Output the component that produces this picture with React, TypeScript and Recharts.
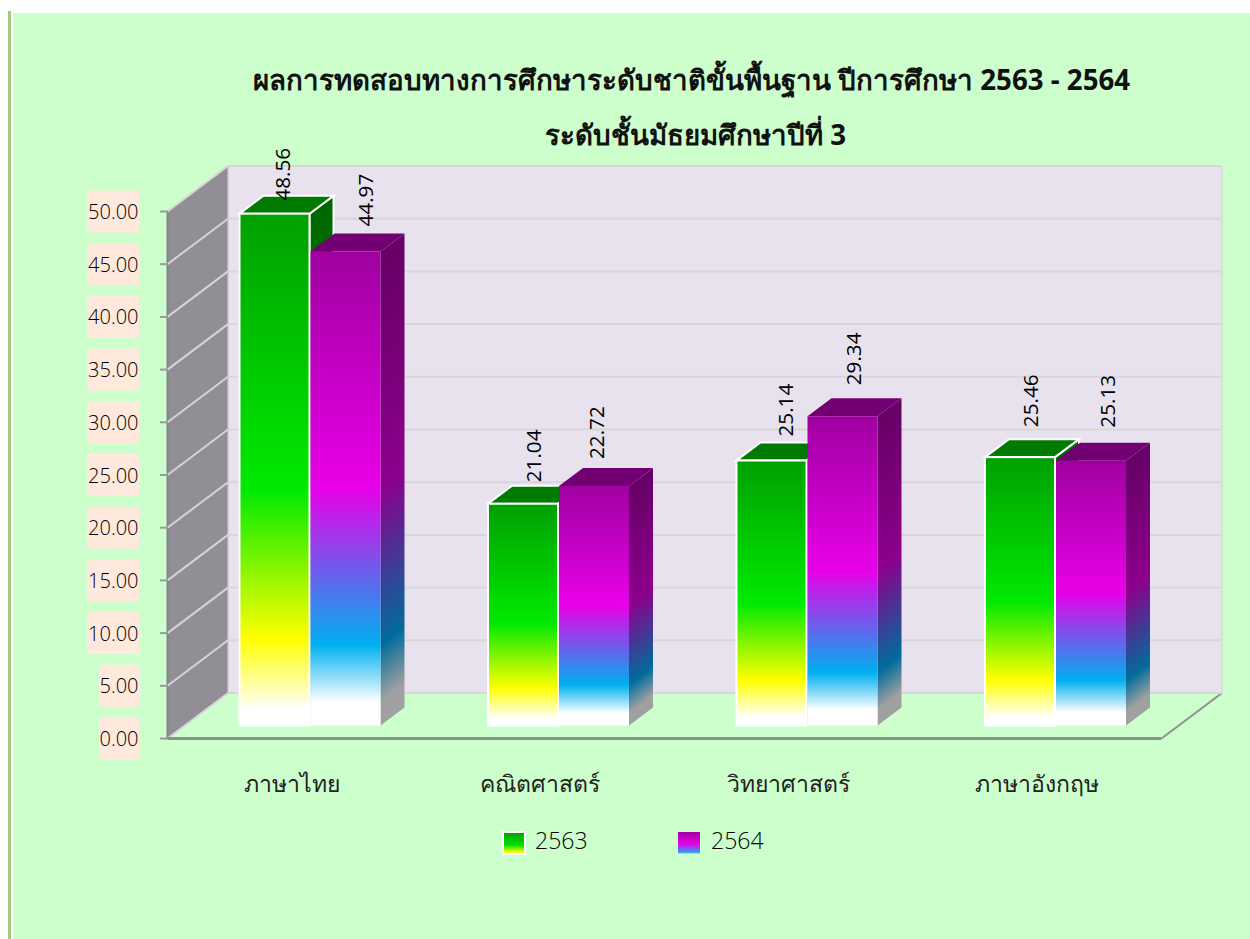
import { BarChart, Bar, XAxis, YAxis, Legend, LabelList, CartesianGrid, usePlotArea } from "recharts";

const subjects = ["ภาษาไทย", "คณิตศาสตร์", "วิทยาศาสตร์", "ภาษาอังกฤษ"];
const scores2563 = [48.56, 21.04, 25.14, 25.46];
const scores2564 = [44.97, 22.72, 29.34, 25.13];
const yTicks = [0, 5, 10, 15, 20, 25, 30, 35, 40, 45, 50];
const titleLines = ["ผลการทดสอบทางการศึกษาระดับชาติขั้นพื้นฐาน ปีการศึกษา 2563 - 2564", "ระดับชั้นมัธยมศึกษาปีที่ 3"];

const data = subjects.map((subject, i) => ({ subject, y2563: scores2563[i], y2564: scores2564[i] }));

const FONT = "'Open Sans', 'Noto Sans', sans-serif";
const TITLE_FONT = "'Noto Sans', sans-serif";
// depth of the fake 3D box
const WALL_DX = 60.5;
const WALL_DY = 45.5;
const BAR_SHIFT_X = 18;
const BAR_SHIFT_Y = 13;
const BAR_DX = 24;
const BAR_DY = 18;

const greenFront = [
  [0, "#00a000"],
  [0.54, "#00ea00"],
  [0.83, "#ffff00"],
  [0.97, "#ffffff"],
] as const;
const purpleFront = [
  [0, "#a000a0"],
  [0.5, "#e800e8"],
  [0.83, "#00b0f0"],
  [0.95, "#ffffff"],
] as const;
const purpleSide = [
  [0, "#660066"],
  [0.5, "#8c008c"],
  [0.83, "#006c9c"],
  [0.95, "#a0a0a0"],
] as const;
const greenSide = [
  [0, "#006600"],
  [0.54, "#008c00"],
  [0.83, "#9c9c00"],
  [0.97, "#a0a0a0"],
] as const;
const greenSwatch = [
  [0, "#00a000"],
  [0.6, "#00e000"],
  [0.92, "#ffff00"],
  [1, "#ffffa0"],
] as const;
const purpleSwatch = [
  [0, "#a000a0"],
  [0.55, "#e800e8"],
  [0.92, "#2aa0f0"],
  [1, "#c0f0ff"],
] as const;

// label nudges, the original labels were placed unevenly: [dx from bar centre, gap above the bar]
const labelNudge2563 = [[7.5, 13], [9.5, 21.5], [13.5, 24], [10, 30]];
const labelNudge2564 = [[19.5, 25], [1.5, 27], [10, 31], [16, 33]];

function Bar3D(props: any) {
  const { x, y, width, height, index, series } = props;
  const green = series === "a";
  const fx = x + BAR_SHIFT_X;
  const fy = y - BAR_SHIFT_Y;
  const r = fx + width;
  const b = fy + height;
  const front = `front-${series}-${index}`;
  const side = `side-${series}-${index}`;
  const edge = green ? { stroke: "#fff", strokeWidth: 2 } : {};
  return (
    <g>
      <defs>
        <linearGradient id={front} x1="0" y1="0" x2="0" y2="1">
          {(green ? greenFront : purpleFront).map(([o, c]) => (
            <stop key={o} offset={o} stopColor={c} />
          ))}
        </linearGradient>
        <linearGradient
          id={side}
          gradientUnits="userSpaceOnUse"
          x1={r}
          y1={fy}
          x2={r + 0.48 * height}
          y2={fy + 0.64 * height}
        >
          {(green ? greenSide : purpleSide).map(([o, c]) => (
            <stop key={o} offset={o} stopColor={c} />
          ))}
        </linearGradient>
      </defs>
      <polygon
        points={`${r},${fy} ${r + BAR_DX},${fy - BAR_DY} ${r + BAR_DX},${b - BAR_DY} ${r},${b}`}
        fill={`url(#${side})`}
        {...edge}
      />
      <polygon
        points={`${fx},${fy} ${fx + BAR_DX},${fy - BAR_DY} ${r + BAR_DX},${fy - BAR_DY} ${r},${fy}`}
        fill={green ? "#007a00" : "#720072"}
        {...edge}
      />
      <rect x={fx} y={fy} width={width} height={height} fill={`url(#${front})`} {...edge} />
    </g>
  );
}

function ValueLabel(props: any) {
  const { x, y, width, value, index, nudges } = props;
  const cx = x + BAR_SHIFT_X + width / 2 + nudges[index][0];
  const by = y - BAR_SHIFT_Y - nudges[index][1];
  return (
    <text
      transform={`translate(${cx},${by}) rotate(-90)`}
      fontFamily={FONT}
      fontSize={20.7}
      fill="#000"
      dominantBaseline="central"
    >
      {Number(value).toFixed(2)}
    </text>
  );
}

function Walls() {
  const plot = usePlotArea();
  if (!plot) return null;
  const { x, y, width, height } = plot;
  const b = y + height;
  const r = x + width;
  return (
    <g>
      <rect x={x + WALL_DX} y={y - WALL_DY} width={width} height={height} fill="#e7e2ed" stroke="#d2d0d4" />
      <polygon
        points={`${x},${y} ${x + WALL_DX},${y - WALL_DY} ${x + WALL_DX},${b - WALL_DY} ${x},${b}`}
        fill="#918e96"
        stroke="#d2d0d4"
      />
      <line x1={x} y1={y} x2={x} y2={b} stroke="#85838a" strokeWidth={2} />
      <line x1={r} y1={b} x2={r + WALL_DX} y2={b - WALL_DY} stroke="#8f8f8f" strokeWidth={2} />
      <line x1={x + WALL_DX} y1={b - WALL_DY} x2={r + WALL_DX} y2={b - WALL_DY} stroke="#c6c4c8" strokeWidth={2} />
    </g>
  );
}

function GridLine(props: any) {
  const { x1, x2, y1 } = props;
  return (
    <g>
      <line x1={x1} y1={y1} x2={x1 + WALL_DX} y2={y1 - WALL_DY} stroke="#d6d4d8" strokeWidth={2} />
      <line x1={x1 + WALL_DX} y1={y1 - WALL_DY} x2={x2 + WALL_DX} y2={y1 - WALL_DY} stroke="#d8d6d8" strokeWidth={2} />
    </g>
  );
}

function YTick(props: any) {
  const { y, payload } = props;
  const label = Number(payload.value).toFixed(2);
  const boxW = label.length > 4 ? 52 : 40;
  return (
    <g>
      <rect x={139 - boxW} y={y - 21} width={boxW} height={42} fill="#ffe9dc" />
      <line x1={160} x2={168} y1={y} y2={y} stroke="#999" strokeWidth={2} />
      <text x={138.5} y={y} textAnchor="end" dominantBaseline="central" fontFamily={FONT} fontWeight={300} fontSize={20} fill="#000">
        {label}
      </text>
    </g>
  );
}

function XTick(props: any) {
  const { x, y, payload } = props;
  return (
    <text x={x} y={y + 2} textAnchor="middle" dominantBaseline="central" fontFamily={FONT} fontWeight={300} fontSize={23} fill="#222">
      {payload.value}
    </text>
  );
}

function LegendRow() {
  const items = [
    { label: "2563", x: 503, textX: 535, fill: "legend-a", edge: true },
    { label: "2564", x: 678, textX: 711, fill: "legend-b", edge: false },
  ];
  return (
    <svg width={300} height={30} style={{ display: "block", overflow: "visible" }}>
      <defs>
        <linearGradient id="legend-a" x1="0" y1="0" x2="0" y2="1">
          {greenSwatch.map(([o, c]) => (
            <stop key={o} offset={o} stopColor={c} />
          ))}
        </linearGradient>
        <linearGradient id="legend-b" x1="0" y1="0" x2="0" y2="1">
          {purpleSwatch.map(([o, c]) => (
            <stop key={o} offset={o} stopColor={c} />
          ))}
        </linearGradient>
      </defs>
      {items.map((it) => (
        <g key={it.label}>
          <rect
            x={it.x - 503}
            y={2}
            width={22}
            height={22}
            fill={`url(#${it.fill})`}
            stroke={it.edge ? "#fff" : "none"}
            strokeWidth={2}
          />
          <text x={it.textX - 503} y={10} dominantBaseline="central" fontFamily={FONT} fontWeight={300} fontSize={23} fill="#000">
            {it.label}
          </text>
        </g>
      ))}
    </svg>
  );
}

export default function App() {
  return (
    <div style={{ position: "fixed", left: 0, top: 0, width: 1250, height: 939, background: "#fff", overflow: "hidden" }}>
      <div style={{ position: "absolute", left: 8, top: 11, width: 3, height: 928, background: "#a3c97f" }} />
      <div style={{ position: "absolute", left: 13, top: 13, width: 1237, height: 926, background: "#ccffcc" }} />
      <div style={{ position: "absolute", left: 0, top: 0 }}>
        <BarChart
          width={1250}
          height={939}
          data={data}
          margin={{ top: 211.5, right: 88.5, bottom: 140.5, left: 107.5 }}
          barSize={70}
          barGap={1}
        >
          <Walls />
          <CartesianGrid zIndex={50} vertical={false} horizontal={(p: any) => <GridLine {...p} />} />
          <XAxis
            dataKey="subject"
            height={60}
            tick={<XTick />}
            tickLine={false}
            tickMargin={36}
            axisLine={{ stroke: "#8f8f8f", strokeWidth: 3 }}
          />
          <YAxis
            width={60}
            domain={[0, 50]}
            ticks={yTicks}
            interval={0}
            tick={<YTick />}
            tickLine={false}
            axisLine={false}
          />
          <Legend
            layout="horizontal"
            verticalAlign="middle"
            wrapperStyle={{ left: 503, top: 830, width: 300 }}
            content={<LegendRow />}
          />
          <Bar dataKey="y2563" name="2563" isAnimationActive={false} shape={<Bar3D series="a" />}>
            <LabelList dataKey="y2563" content={<ValueLabel nudges={labelNudge2563} />} />
          </Bar>
          <Bar dataKey="y2564" name="2564" isAnimationActive={false} shape={<Bar3D series="b" />}>
            <LabelList dataKey="y2564" content={<ValueLabel nudges={labelNudge2564} />} />
          </Bar>
          <text x={691.5} y={79} textAnchor="middle" dominantBaseline="central" fontFamily={TITLE_FONT} fontWeight="bold" fontSize={27.7} fill="#111">
            {titleLines[0]}
          </text>
          <text x={695.5} y={134} textAnchor="middle" dominantBaseline="central" fontFamily={TITLE_FONT} fontWeight="bold" fontSize={27.7} fill="#111">
            {titleLines[1]}
          </text>
        </BarChart>
      </div>
    </div>
  );
}
